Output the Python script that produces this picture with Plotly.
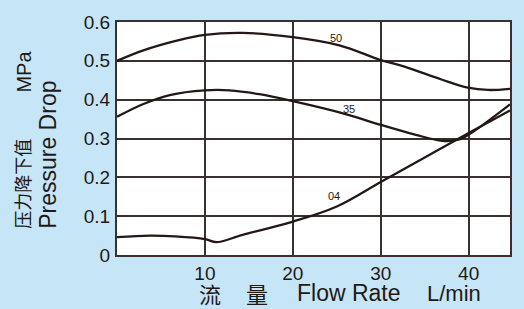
import plotly.graph_objects as go

# Data
flow_50 = [0, 3, 6.8, 10, 14.3, 20, 25.3, 30, 32.7, 36.9, 39.9, 42.2, 44.7]
drop_50 = [0.500, 0.527, 0.552, 0.567, 0.572, 0.561, 0.540, 0.502, 0.485, 0.452, 0.431, 0.425, 0.428]

flow_35 = [0, 3, 6, 10, 12.8, 16.2, 20, 25.8, 30, 33.9, 37, 38.8, 40, 44.7]
drop_35 = [0.356, 0.389, 0.412, 0.424, 0.424, 0.414, 0.396, 0.364, 0.335, 0.310, 0.294, 0.297, 0.310, 0.388]

flow_04 = [0, 3.7, 6.6, 10, 11.3, 14.3, 20, 25, 30, 35, 40, 44.7]
drop_04 = [0.046, 0.050, 0.048, 0.041, 0.033, 0.052, 0.086, 0.125, 0.188, 0.251, 0.314, 0.372]

series_names = ["50", "35", "04"]
label_x = [24.9, 26.4, 24.7]
label_y = [0.559, 0.377, 0.151]

x_range = [0, 44.7]
y_range = [0, 0.6]
x_ticks = [10, 20, 30, 40]
y_ticks = [0, 0.1, 0.2, 0.3, 0.4, 0.5, 0.6]
y_tick_text = ["0", "0.1", "0.2", "0.3", "0.4", "0.5", "0.6"]

INK = "#231815"
GRID = "#3a3030"
BG = "#c6e6f8"
LATIN = "Liberation Sans, Arial, Helvetica, sans-serif"
CJK = "Noto Sans CJK SC, Noto Sans CJK JP, sans-serif"

fig = go.Figure()
for xs, ys, name in [(flow_50, drop_50, "50"), (flow_35, drop_35, "35"), (flow_04, drop_04, "04")]:
    fig.add_trace(go.Scatter(x=xs, y=ys, mode="lines", name=name,
                             line=dict(color=INK, width=2.3, shape="spline", smoothing=1.0)))

for name, lx, ly in zip(series_names, label_x, label_y):
    fig.add_annotation(x=lx, y=ly, xref="x", yref="y", text=name, showarrow=False,
                       font=dict(family=LATIN, size=11, color=INK))

PL, PR, PT, PB = 117, 511, 16, 255
def px(xp):
    return (xp - PL) / (PR - PL)
def py(yp):
    return (PB - yp) / (PB - PT)

# y axis title pieces
fig.add_annotation(xref="paper", yref="paper", x=px(21), y=py(230), text="压力降下值",
                   textangle=-90, showarrow=False, xanchor="center", yanchor="bottom",
                   font=dict(family=CJK, size=18, color=INK))
fig.add_annotation(xref="paper", yref="paper", x=px(24), y=py(43), text="MPa",
                   textangle=-90, showarrow=False, xanchor="center", yanchor="top",
                   font=dict(family=LATIN, size=20, color=INK))
fig.add_annotation(xref="paper", yref="paper", x=px(47), y=py(230), text="Pressure Drop",
                   textangle=-90, showarrow=False, xanchor="center", yanchor="bottom",
                   font=dict(family=LATIN, size=23, color=INK))

# x axis title pieces
fig.add_annotation(xref="paper", yref="paper", x=px(210), y=py(294), text="流",
                   showarrow=False, xanchor="center", yanchor="middle",
                   font=dict(family=CJK, size=22, color=INK))
fig.add_annotation(xref="paper", yref="paper", x=px(257.5), y=py(294), text="量",
                   showarrow=False, xanchor="center", yanchor="middle",
                   font=dict(family=CJK, size=22, color=INK))
fig.add_annotation(xref="paper", yref="paper", x=px(295), y=py(294), text="Flow Rate",
                   showarrow=False, xanchor="left", yanchor="middle",
                   font=dict(family=LATIN, size=23, color=INK))
fig.add_annotation(xref="paper", yref="paper", x=px(426), y=py(294), text="L/min",
                   showarrow=False, xanchor="left", yanchor="middle",
                   font=dict(family=LATIN, size=22, color=INK))

fig.update_xaxes(range=x_range, tickvals=x_ticks,
                 showgrid=True, gridcolor=GRID, gridwidth=1.6, zeroline=False,
                 showline=True, linecolor=GRID, linewidth=2, mirror=True,
                 ticks="",
                 tickfont=dict(family=LATIN, size=19, color=INK))
fig.update_yaxes(range=y_range, tickvals=y_ticks, ticktext=y_tick_text,
                 showgrid=True, gridcolor=GRID, gridwidth=1.6, zeroline=False,
                 showline=True, linecolor=GRID, linewidth=2, mirror=True,
                 ticks="outside", ticklen=1, tickcolor="rgba(0,0,0,0)",
                 tickfont=dict(family=LATIN, size=19, color=INK))

fig.update_layout(width=524, height=309, margin=dict(l=PL, r=524 - PR, t=PT, b=309 - PB),
                  paper_bgcolor=BG, plot_bgcolor="white", showlegend=False)

fig.write_html("out.html", config={"displayModeBar": False},
               post_script="document.body.style.margin='0';")
